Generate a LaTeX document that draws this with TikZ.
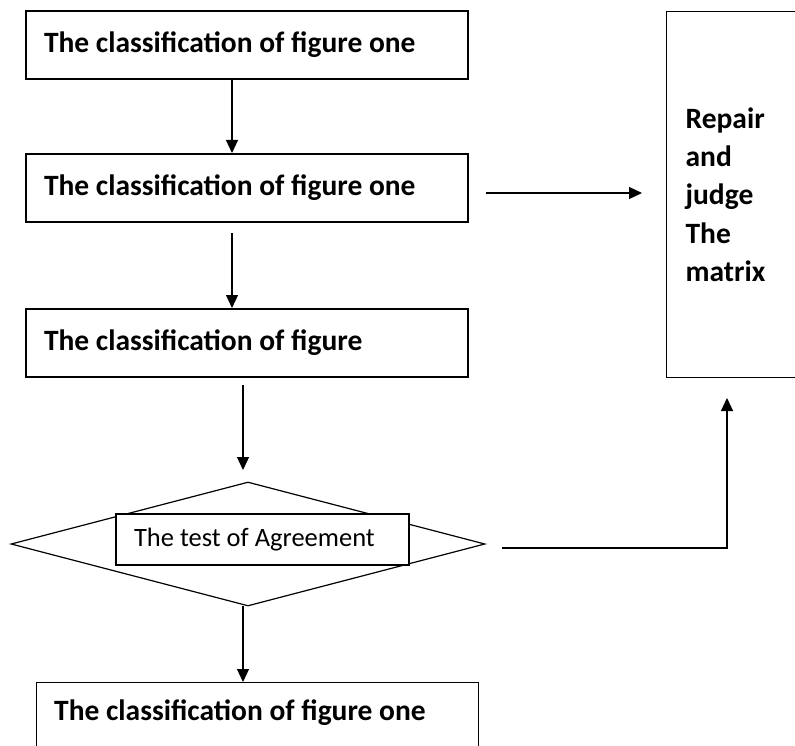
\documentclass[tikz,border=0pt]{standalone}
\usepackage{fontspec}
\setmainfont{Carlito}
\usetikzlibrary{arrows.meta,shapes.geometric}
\begin{document}
\begin{tikzpicture}[x=1pt,y=-1pt,
  box/.style={draw=black,line width=1.2pt,rectangle,inner sep=0pt,inner xsep=18pt,
    minimum width=442pt,minimum height=68pt,text width=406pt,align=flush left,
    font=\fontsize{29.5}{32}\selectfont\bfseries},
  arr/.style={-{Triangle[length=13pt,width=12pt]},line width=1.2pt}]
\useasboundingbox (0,0) rectangle (795,746);
\clip (0,0) rectangle (795,746);
\node[box] (b1) at (247,45) {The classification of figure one};
\node[box] (b2) at (247,188) {The classification of figure one};
\node[box] (b3) at (247,343) {The classification of figure};
\node[draw=black,line width=1.2pt,diamond,inner sep=0pt,minimum width=474pt,minimum height=124pt] (dm) at (248,544) {};
\node[draw=black,fill=white,line width=1.2pt,rectangle,inner sep=0pt,inner xsep=18pt,
  minimum width=293pt,minimum height=51pt,text width=257pt,align=flush left,
  font=\fontsize{26.5}{30}\selectfont] (tst) at (262.5,539.5) {The test of Agreement};
\node[box,anchor=north west] (b5) at (36,682) {};
\node[anchor=west,inner sep=0pt,font=\fontsize{29.5}{32}\selectfont\bfseries] (t5) at (54,713) {The classification of figure one};
\node[draw=black,line width=1.2pt,rectangle,anchor=north west,inner sep=0pt,inner xsep=19pt,
  minimum width=160pt,minimum height=366pt,text width=122pt,align=flush left,
  font=\fontsize{29.5}{38.3}\selectfont\bfseries] (rp) at (666,11) {Repair\\and\\judge\\The\\matrix};
\coordinate (c1) at (232,79);
\coordinate (c2) at (232,153);
\draw[arr] (c1) -- (c2);
\coordinate (c3) at (232,233);
\coordinate (c4) at (232,308);
\draw[arr] (c3) -- (c4);
\coordinate (c5) at (243,385);
\coordinate (c6) at (243,470);
\draw[arr] (c5) -- (c6);
\coordinate (c7) at (243,606);
\coordinate (c8) at (243,682);
\draw[arr] (c7) -- (c8);
\coordinate (c9) at (486,193);
\coordinate (c10) at (642,193);
\draw[arr] (c9) -- (c10);
\coordinate (c11) at (502,548);
\coordinate (c12) at (727,548);
\coordinate (c13) at (727,398);
\draw[arr] (c11) -- (c12) -- (c13);
\end{tikzpicture}
\end{document}
